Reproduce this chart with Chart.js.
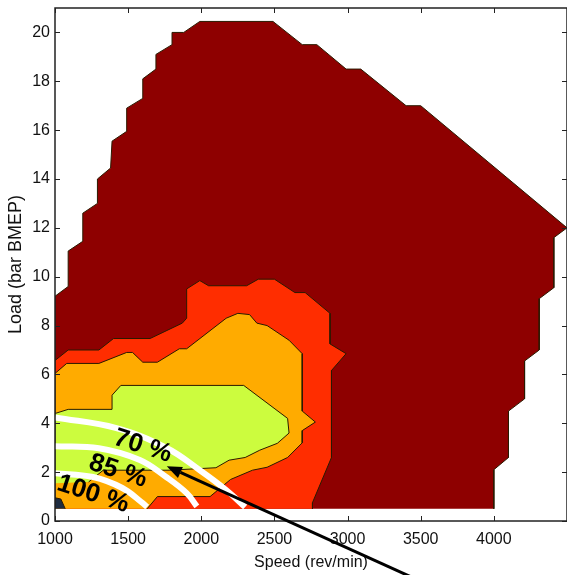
<!DOCTYPE html>
<html>
<head>
<meta charset="utf-8">
<script src="https://cdn.jsdelivr.net/npm/chart.js@4.4.1/dist/chart.umd.min.js"></script>
<style>
  body { margin: 0; background: #fff; }
  #map { display: block; }
</style>
</head>
<body>
<canvas id="map" width="567" height="575"></canvas>
<script>
// tick labels
const SPEED_TICKS = [1000, 1500, 2000, 2500, 3000, 3500, 4000];
const LOAD_TICKS = [0, 2, 4, 6, 8, 10, 12, 14, 16, 18, 20];

// contour outlines, [speed rev/min, load bar]
const darkRedZone = [
  [1000, 0.5], [1000, 9.2], [1090, 9.6], [1090, 11.05], [1190, 11.45], [1190, 12.6], [1290, 13.0],
  [1290, 14.0], [1380, 14.45], [1390, 15.55], [1490, 15.95], [1490, 16.9], [1600, 17.3], [1600, 18.1],
  [1690, 18.5], [1690, 19.1], [1800, 19.5], [1800, 20.0], [1880, 20.0], [1990, 20.45], [2490, 20.45],
  [2690, 19.5], [2790, 19.5], [2990, 18.5], [3090, 18.5], [3400, 17.0], [3500, 17.0], [4500, 12.0],
  [4410, 11.6], [4410, 9.55], [4310, 9.1], [4310, 7.0], [4210, 6.55], [4210, 5.0], [4100, 4.5],
  [4100, 2.6], [4000, 2.1], [4000, 0.5]
];
const redZone = [
  [1000, 0.5], [1000, 6.57], [1090, 7.0], [1300, 7.0], [1400, 7.47], [1650, 7.47], [1870, 8.1],
  [1900, 8.3], [1900, 9.5], [1990, 9.84], [2050, 9.63], [2310, 9.63], [2390, 9.9], [2500, 9.9],
  [2640, 9.35], [2710, 9.35], [2880, 8.5], [2880, 7.25], [2990, 6.85], [2890, 6.16], [2890, 2.6],
  [2760, 0.75], [2760, 0.5]
];
const orangeZone = [
  [1000, 0.5], [1000, 6.04], [1080, 6.45], [1300, 6.45], [1490, 6.9], [1530, 6.9], [1600, 6.5],
  [1700, 6.5], [1850, 7.05], [1900, 7.05], [2170, 8.3], [2250, 8.5], [2330, 8.45], [2380, 8.1],
  [2450, 8.0], [2600, 7.4], [2690, 6.85], [2690, 4.5], [2780, 4.05], [2690, 3.7], [2690, 3.2],
  [2590, 2.6], [2450, 2.2], [2350, 2.08], [2200, 1.7], [2060, 1.0], [1700, 1.0], [1630, 0.5]
];
const greenZone = [
  [1000, 1.55], [1000, 4.4], [1090, 4.57], [1390, 4.57], [1390, 5.15], [1450, 5.55], [2290, 5.55],
  [2590, 4.2], [2600, 3.6], [2520, 3.18], [2400, 2.9], [2300, 2.6], [2190, 2.49], [2100, 2.18],
  [1780, 2.08], [1330, 2.08], [1230, 1.6]
];
const darkSpot = [[1000, 0.5], [1000, 0.95], [1040, 0.9], [1070, 0.5]];

// white efficiency curves
const curve70 = [[1000, 4.24], [1420, 3.8], [1760, 3.0], [1990, 2.08], [2170, 1.27], [2300, 0.57]];
const curve85 = [[1000, 3.06], [1300, 2.98], [1580, 2.5], [1760, 1.8], [1900, 1.14], [1970, 0.6]];
const curve100 = [[1000, 1.96], [1260, 1.8], [1460, 1.35], [1600, 0.73], [1630, 0.57]];

const curveLabels = ['70 %', '85 %', '100 %'];
const labelSpots = [[1600, 3.06], [1430, 2.04], [1260, 1.1]];
const arrowFrom = [3435, -2.29];
const arrowTo = [1764, 2.24];

const pts = arr => arr.map(([x, y]) => ({ x, y }));

function zone(arr, color, order) {
  return {
    data: pts(arr), showLine: true, fill: 'shape', backgroundColor: color,
    borderColor: '#2a1a00', borderWidth: 1, pointRadius: 0, tension: 0, order
  };
}
function curve(arr) {
  return {
    data: pts(arr), showLine: true, fill: false, borderColor: '#fff',
    borderWidth: 6, pointRadius: 0, tension: 0.4, order: 0
  };
}

const decor = {
  id: 'decor',
  afterDraw(chart) {
    const { ctx, chartArea: a, scales: { x, y } } = chart;
    ctx.save();
    // box and inward ticks
    ctx.strokeStyle = '#222';
    ctx.lineWidth = 1.5;
    ctx.strokeRect(a.left, a.top, a.right - a.left, a.bottom - a.top);
    ctx.lineWidth = 1;
    ctx.beginPath();
    SPEED_TICKS.forEach(v => {
      const px = Math.round(x.getPixelForValue(v)) + 0.5;
      ctx.moveTo(px, a.bottom); ctx.lineTo(px, a.bottom - 5);
      ctx.moveTo(px, a.top); ctx.lineTo(px, a.top + 5);
    });
    LOAD_TICKS.forEach(v => {
      const py = Math.round(y.getPixelForValue(v)) + 0.5;
      ctx.moveTo(a.left, py); ctx.lineTo(a.left + 5, py);
      ctx.moveTo(a.right, py); ctx.lineTo(a.right - 5, py);
    });
    ctx.stroke();

    // curve labels
    ctx.fillStyle = '#000';
    ctx.font = 'bold 26px Arial, "Liberation Sans", sans-serif';
    ctx.textAlign = 'center';
    ctx.textBaseline = 'middle';
    curveLabels.forEach((t, i) => {
      ctx.save();
      ctx.translate(x.getPixelForValue(labelSpots[i][0]), y.getPixelForValue(labelSpots[i][1]));
      ctx.rotate(18 * Math.PI / 180);
      ctx.fillText(t, 0, 0);
      ctx.restore();
    });

    // arrow
    const x0 = x.getPixelForValue(arrowFrom[0]), y0 = y.getPixelForValue(arrowFrom[1]);
    const x1 = x.getPixelForValue(arrowTo[0]), y1 = y.getPixelForValue(arrowTo[1]);
    const ang = Math.atan2(y1 - y0, x1 - x0);
    const head = 15, wing = 6;
    const bx = x1 - head * Math.cos(ang), by = y1 - head * Math.sin(ang);
    ctx.strokeStyle = '#000';
    ctx.lineWidth = 3;
    ctx.beginPath();
    ctx.moveTo(x0, y0);
    ctx.lineTo(bx, by);
    ctx.stroke();
    ctx.beginPath();
    ctx.moveTo(x1, y1);
    ctx.lineTo(bx + wing * Math.sin(ang), by - wing * Math.cos(ang));
    ctx.lineTo(bx - wing * Math.sin(ang), by + wing * Math.cos(ang));
    ctx.closePath();
    ctx.fill();
    ctx.restore();
  }
};

const FONT = 'Arial, "Liberation Sans", sans-serif';
const tickFont = { family: FONT, size: 16 };

new Chart(document.getElementById('map'), {
  type: 'scatter',
  data: {
    datasets: [
      zone(darkRedZone, '#8e0000', 5),
      zone(redZone, '#ff2d00', 4),
      zone(orangeZone, '#ffab00', 3),
      zone(greenZone, '#ccfc3e', 2),
      zone(darkSpot, '#1e2c40', 1),
      curve(curve70),
      curve(curve85),
      curve(curve100)
    ]
  },
  options: {
    responsive: false,
    animation: false,
    devicePixelRatio: 1,
    layout: { padding: { top: 8, right: 0, left: 0, bottom: 0 } },
    plugins: { legend: { display: false }, tooltip: { enabled: false } },
    scales: {
      x: {
        type: 'linear', min: 1000, max: 4500,
        grid: { display: false, drawTicks: false, tickLength: 0 }, border: { display: false },
        afterBuildTicks: s => { s.ticks = SPEED_TICKS.map(v => ({ value: v })); },
        afterFit: s => { s.height = 54; s.paddingLeft = 0; s.paddingRight = 0; },
        ticks: { font: tickFont, color: '#111', padding: 9, maxRotation: 0, callback: v => String(v) },
        title: { display: true, text: 'Speed (rev/min)', color: '#111',
                 font: { family: FONT, size: 16 }, padding: { top: 0, bottom: 3 } }
      },
      y: {
        type: 'linear', min: 0, max: 21,
        grid: { display: false, drawTicks: false, tickLength: 0 }, border: { display: false },
        afterBuildTicks: s => { s.ticks = LOAD_TICKS.map(v => ({ value: v })); },
        afterFit: s => { s.width = 55; s.paddingTop = 0; s.paddingBottom = 0; },
        ticks: { font: tickFont, color: '#111', padding: 5, callback: v => String(v) },
        title: { display: true, text: 'Load (bar BMEP)', color: '#111',
                 font: { family: FONT, size: 18 }, padding: { top: 5, bottom: 0 } }
      }
    }
  },
  plugins: [decor]
});
</script>
</body>
</html>
